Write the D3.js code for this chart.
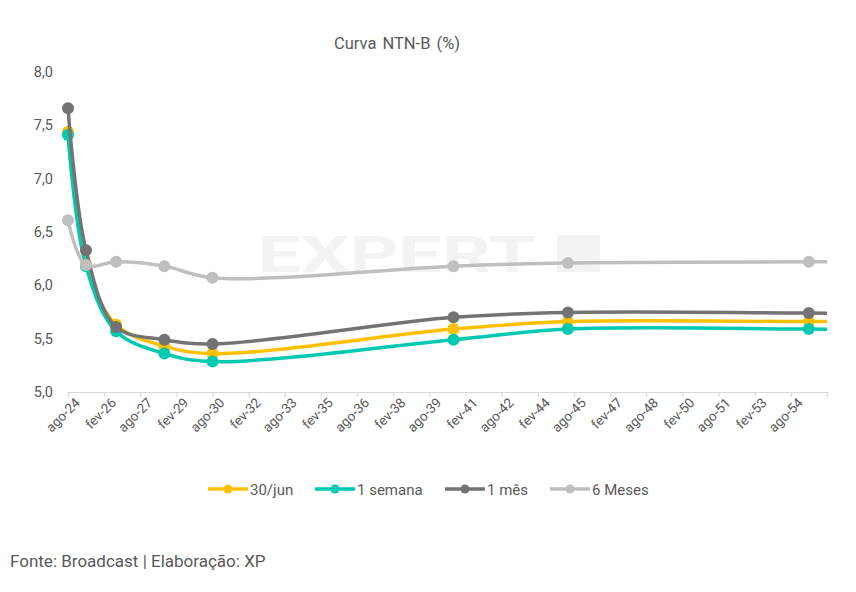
<!DOCTYPE html>
<html>
<head>
<meta charset="utf-8">
<script src="https://cdn.jsdelivr.net/npm/d3@7"></script>
<style>
  body { margin: 0; background: #fff; }
  text { font-family: Roboto, "Noto Sans", sans-serif; fill: #595959; }
</style>
</head>
<body>
<div id="chart"></div>
<script>
// maturities (year-month) of the plotted NTN-B points
var maturities = ["2024-08", "2025-05", "2026-08", "2028-08", "2030-08", "2040-08", "2045-05", "2055-05", "2060-08"];
var jun30   = [7.44, 6.20, 5.63, 5.43, 5.36, 5.59, 5.66, 5.66, 5.66];
var semana1 = [7.41, 6.18, 5.57, 5.36, 5.285, 5.49, 5.59, 5.59, 5.58];
var mes1    = [7.66, 6.33, 5.61, 5.49, 5.45, 5.70, 5.745, 5.74, 5.73];
var meses6  = [6.61, 6.19, 6.22, 6.18, 6.07, 6.18, 6.21, 6.22, 6.22];

var seriesNames = ["30/jun", "1 semana", "1 mês", "6 Meses"];
var seriesColors = ["#FFC000", "#00C9B1", "#737373", "#BFBFBF"];

var yTicks = [5.0, 5.5, 6.0, 6.5, 7.0, 7.5, 8.0];
var xTickLabels = ["ago-24", "fev-26", "ago-27", "fev-29", "ago-30", "fev-32", "ago-33", "fev-35",
  "ago-36", "fev-38", "ago-39", "fev-41", "ago-42", "fev-44", "ago-45", "fev-47", "ago-48",
  "fev-50", "ago-51", "fev-53", "ago-54", ""];

var width = 856, height = 592;
var plot = { left: 68, right: 827, top: 72, bottom: 392 };

var svg = d3.select("#chart").append("svg")
  .attr("width", width)
  .attr("height", height);

var parseMonth = d3.timeParse("%Y-%m");
var dates = maturities.map(parseMonth);
var start = dates[0];
var tickDates = xTickLabels.map(function (d, i) { return d3.timeMonth.offset(start, 18 * i); });

var x = d3.scaleTime()
  .domain([start, tickDates[tickDates.length - 1]])
  .range([plot.left, plot.right]);

var y = d3.scaleLinear()
  .domain([5, 8])
  .range([plot.bottom, plot.top]);

// title
svg.append("text")
  .attr("x", 397)
  .attr("y", 49)
  .attr("text-anchor", "middle")
  .style("font-size", "16.5px")
  .style("word-spacing", "2px")
  .text("Curva NTN-B (%)");

// watermark
var wm = svg.append("g");
wm.append("text")
  .attr("x", 258)
  .attr("y", 272)
  .attr("textLength", 278)
  .attr("lengthAdjust", "spacingAndGlyphs")
  .style("font-size", "50px")
  .style("font-weight", "bold")
  .style("fill", "#f3f3f3")
  .text("EXPERT");
wm.append("rect")
  .attr("x", 557).attr("y", 235)
  .attr("width", 43).attr("height", 37)
  .style("fill", "#f3f3f3");

// y axis labels (no axis line)
svg.selectAll(".ylab")
  .data(yTicks)
  .enter().append("text")
  .attr("class", "ylab")
  .attr("x", 53)
  .attr("y", function (d) { return y(d) + 5; })
  .attr("text-anchor", "end")
  .style("font-size", "14.5px")
  .text(function (d) { return d3.format(".1f")(d).replace(".", ","); });

// x axis
var xAxis = svg.append("g")
  .attr("transform", "translate(0," + plot.bottom + ")")
  .call(d3.axisBottom(x)
    .tickValues(tickDates)
    .tickSize(5)
    .tickFormat(function (d, i) { return xTickLabels[i]; }));

xAxis.select(".domain").attr("stroke", "#d9d9d9").attr("stroke-width", 1.2);
xAxis.selectAll(".tick line").attr("stroke", "#d9d9d9").attr("stroke-width", 1.2);
xAxis.selectAll(".tick text")
  .attr("text-anchor", "end")
  .attr("x", 0)
  .attr("y", 0)
  .attr("dx", "0.2em")
  .attr("dy", "1.1em")
  .attr("transform", "translate(0,3) rotate(-45)")
  .style("font-size", "13.5px")
  .style("fill", "#595959")
  .style("font-family", "Roboto, sans-serif");

// clip to plot area
svg.append("defs").append("clipPath")
  .attr("id", "clip")
  .append("rect")
  .attr("x", plot.left - 10)
  .attr("y", plot.top - 10)
  .attr("width", plot.right - plot.left + 10)
  .attr("height", plot.bottom - plot.top + 20);

var seriesValues = [jun30, semana1, mes1, meses6];

var line = d3.line()
  .x(function (d) { return x(d.date); })
  .y(function (d) { return y(d.value); })
  .curve(d3.curveCatmullRom.alpha(0.5));

var plotArea = svg.append("g").attr("clip-path", "url(#clip)");

seriesValues.forEach(function (vals, s) {
  var pts = vals.map(function (v, i) { return { date: dates[i], value: v }; });
  var g = plotArea.append("g");
  g.append("path")
    .datum(pts)
    .attr("fill", "none")
    .attr("stroke", seriesColors[s])
    .attr("stroke-width", 3.5)
    .attr("d", line);
  g.selectAll("circle")
    .data(pts.filter(function (d) { return d.date <= x.domain()[1]; }))
    .enter().append("circle")
    .attr("cx", function (d) { return x(d.date); })
    .attr("cy", function (d) { return y(d.value); })
    .attr("r", 6)
    .style("fill", seriesColors[s]);
});

// legend
var legendX = [208, 315, 445, 550];
var legend = svg.selectAll(".legend")
  .data(seriesNames)
  .enter().append("g")
  .attr("class", "legend")
  .attr("transform", function (d, i) { return "translate(" + legendX[i] + ",489)"; });

legend.append("line")
  .attr("x1", 0).attr("x2", 40)
  .attr("stroke", function (d, i) { return seriesColors[i]; })
  .attr("stroke-width", 3.5);
legend.append("circle")
  .attr("cx", 20)
  .attr("r", 4.5)
  .style("fill", function (d, i) { return seriesColors[i]; });
legend.append("text")
  .attr("x", 42)
  .attr("y", 5.5)
  .style("font-size", "15px")
  .text(function (d) { return d; });

// source
svg.append("text")
  .attr("x", 10)
  .attr("y", 567)
  .style("font-size", "17px")
  .text("Fonte: Broadcast | Elaboração: XP");
</script>
</body>
</html>
